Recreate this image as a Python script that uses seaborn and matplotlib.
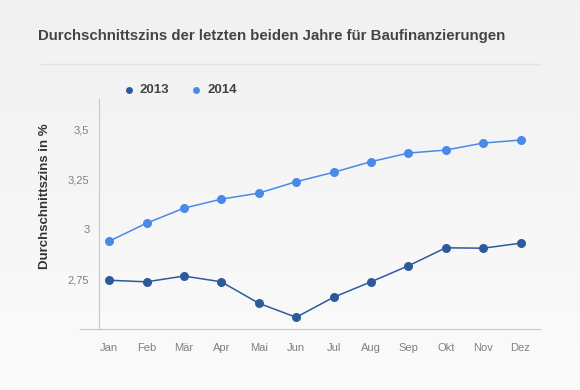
import pandas as pd
import numpy as np
import seaborn as sns
import matplotlib.pyplot as plt

# === Data ===
months = ["Jan", "Feb", "Mär", "Apr", "Mai", "Jun", "Jul", "Aug", "Sep", "Okt", "Nov", "Dez"]
zins_2013 = [2.745, 2.737, 2.766, 2.737, 2.63, 2.56, 2.66, 2.737, 2.817, 2.907, 2.905, 2.93]
zins_2014 = [2.94, 3.03, 3.105, 3.15, 3.18, 3.237, 3.284, 3.337, 3.38, 3.395, 3.43, 3.445]
years = ["2013", "2014"]
colors = {"2013": "#2d5a9b", "2014": "#4a89e8"}

df = pd.DataFrame({
    "Monat": months * 2,
    "idx": list(range(12)) * 2,
    "Zins": zins_2013 + zins_2014,
    "Jahr": ["2013"] * 12 + ["2014"] * 12,
})

sns.set_style("white")
plt.rcParams["font.family"] = ["Liberation Sans", "DejaVu Sans"]

fig = plt.figure(figsize=(5.8, 3.9), dpi=100)
# light gradient background
bg = fig.add_axes([0, 0, 1, 1], zorder=-10)
grad = np.linspace(0, 1, 256).reshape(-1, 1)
bg.imshow(grad, aspect="auto", cmap=sns.blend_palette(["#fbfbfb", "#f1f1f1"], as_cmap=True),
          extent=[0, 1, 0, 1], origin="lower")
bg.axis("off")

ax = fig.add_axes([80 / 580, 1 - 329.3 / 390, 460 / 580, 230.3 / 390])
ax.patch.set_alpha(0)

sns.lineplot(data=df, x="idx", y="Zins", hue="Jahr", palette=colors, marker="o",
             markersize=6.5, markeredgewidth=0, linewidth=1.1, legend=False, ax=ax)

ax.set_xlim(-0.78, 11.52)
ax.set_ylim(2.5, 3.65)
ax.set_xticks(range(12))
ax.set_xticklabels(months)
ax.set_yticks([2.75, 3.0, 3.25, 3.5])
ax.set_yticklabels(["2,75", "3", "3,25", "3,5"])
ax.tick_params(axis="both", colors="#c8c8c8", labelcolor="#808080", labelsize=8, length=4, width=1)
ax.tick_params(axis="x", pad=6)
ax.tick_params(axis="y", pad=3)
for s in ["top", "right"]:
    ax.spines[s].set_visible(False)
ax.spines["left"].set_position(("data", -0.27))
ax.spines["left"].set_color("#c8c8c8")
ax.spines["bottom"].set_color("#c8c8c8")
ax.set_xlabel("")
ax.set_ylabel("Durchschnittszins in %", fontsize=9.5, color="#333333", fontweight="bold")
ax.yaxis.set_label_coords(-0.063, 0.58)

# title and separator
fig.text(38 / 580, 1 - 36 / 390, "Durchschnittszins der letzten beiden Jahre für Baufinanzierungen",
         fontsize=10.8, fontweight="bold", color="#444444", va="center", ha="left")
fig.add_artist(plt.Line2D([40 / 580, 540 / 580], [1 - 64 / 390] * 2, color="#e2e2e2", lw=1))

# legend
for x0, yr in zip([129, 196], years):
    fig.add_artist(plt.Line2D([x0 / 580], [1 - 90 / 390], marker="o", color=colors[yr],
                              markersize=5, markeredgewidth=0, linestyle=""))
    fig.text((x0 + 11) / 580, 1 - 90 / 390, yr, fontsize=9.5, fontweight="bold",
             color="#444444", va="center", ha="left")

plt.savefig("out.png", dpi=100)
